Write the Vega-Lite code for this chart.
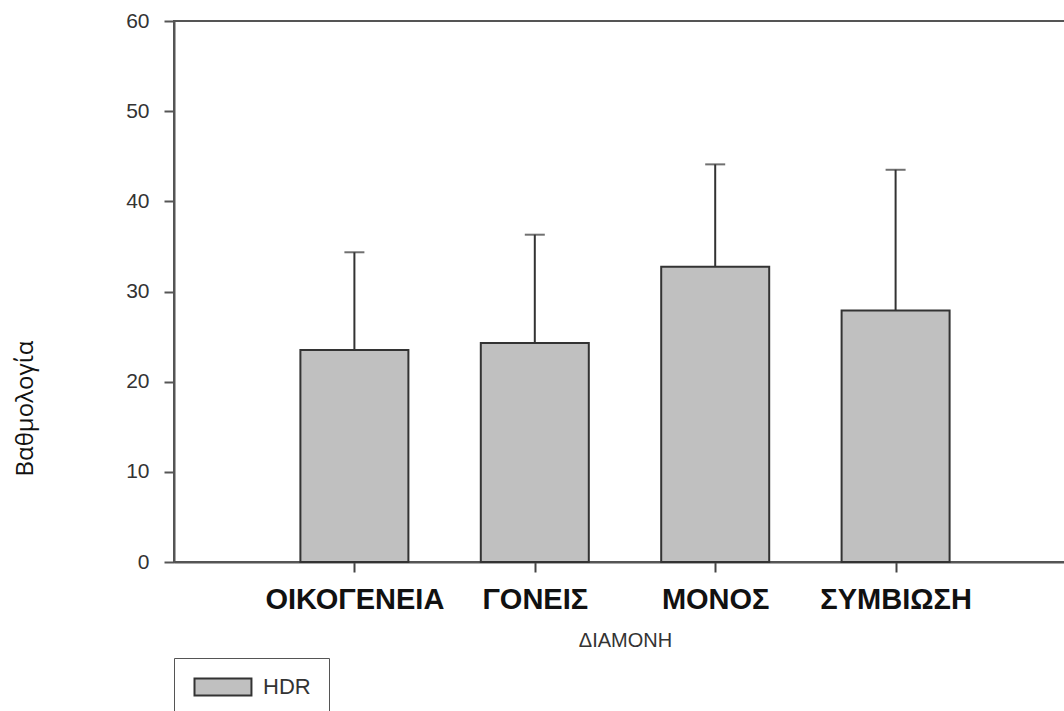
{
  "$schema": "https://vega.github.io/schema/vega-lite/v6.json",
  "width": 902,
  "height": 541,
  "padding": {"top": 10, "left": 13, "right": 0, "bottom": 0},
  "background": "white",
  "config": {
    "view": {"stroke": "#555555", "strokeWidth": 2},
    "font": "Liberation Sans"
  },
  "data": {
    "values": [
      {"diamoni": "ΟΙΚΟΓΕΝΕΙΑ", "mean": 23.5, "upper": 34.35, "series": "HDR"},
      {"diamoni": "ΓΟΝΕΙΣ", "mean": 24.3, "upper": 36.3, "series": "HDR"},
      {"diamoni": "ΜΟΝΟΣ", "mean": 32.75, "upper": 44.1, "series": "HDR"},
      {"diamoni": "ΣΥΜΒΙΩΣΗ", "mean": 27.9, "upper": 43.5, "series": "HDR"}
    ]
  },
  "encoding": {
    "x": {
      "field": "diamoni",
      "type": "nominal",
      "sort": null,
      "scale": {"type": "point", "padding": 0, "domain": [" ", "ΟΙΚΟΓΕΝΕΙΑ", "ΓΟΝΕΙΣ", "ΜΟΝΟΣ", "ΣΥΜΒΙΩΣΗ", "  "]},
      "axis": {
        "title": "ΔΙΑΜΟΝΗ",
        "values": ["ΟΙΚΟΓΕΝΕΙΑ", "ΓΟΝΕΙΣ", "ΜΟΝΟΣ", "ΣΥΜΒΙΩΣΗ"],
        "labelAngle": 0,
        "labelFont": "Liberation Sans",
        "labelFontWeight": "bold",
        "labelFontSize": 29,
        "labelColor": "#111111",
        "labelPadding": 13,
        "tickSize": 10,
        "tickColor": "#444444",
        "tickWidth": 2,
        "domainColor": "#555555",
        "domainWidth": 2,
        "titleFont": "Liberation Sans",
        "titleFontWeight": "normal",
        "titleFontSize": 20,
        "titleColor": "#333333",
        "titlePadding": 16
      }
    }
  },
  "layer": [
    {
      "mark": {"type": "bar", "size": 108, "stroke": "#333333", "strokeWidth": 2},
      "encoding": {
        "y": {
          "field": "mean",
          "type": "quantitative",
          "scale": {"domain": [0, 60], "nice": false},
          "axis": {
            "title": "Βαθμολογία",
            "values": [0, 10, 20, 30, 40, 50, 60],
            "grid": false,
            "labelFont": "Liberation Sans",
            "labelFontSize": 21,
            "labelColor": "#333333",
            "labelPadding": 15,
            "tickSize": 10,
            "tickColor": "#555555",
            "tickWidth": 2,
            "domainColor": "#555555",
            "domainWidth": 2,
            "titleFont": "Open Sans",
            "titleFontWeight": "normal",
            "titleFontSize": 24,
            "titleColor": "#111111",
            "titlePadding": 88,
            "titleY": 387
          }
        },
        "color": {
          "field": "series",
          "type": "nominal",
          "scale": {"range": ["#c0c0c0"]},
          "legend": {
            "title": null,
            "orient": "bottom",
            "offset": 8,
            "symbolType": "M-1,-1H5.7V1H-1Z",
            "symbolSize": 289,
            "symbolStrokeColor": "#333333",
            "symbolStrokeWidth": 2,
            "labelFont": "Liberation Sans",
            "labelFontSize": 22,
            "labelColor": "#333333",
            "labelOffset": 49,
            "padding": 18,
            "strokeColor": "#555555",
            "fillColor": "white"
          }
        }
      }
    },
    {
      "mark": {"type": "rule", "stroke": "#333333", "strokeWidth": 2},
      "encoding": {
        "y": {"field": "mean", "type": "quantitative"},
        "y2": {"field": "upper"}
      }
    },
    {
      "mark": {"type": "tick", "orient": "horizontal", "size": 20, "thickness": 2, "color": "#333333"},
      "encoding": {
        "y": {"field": "upper", "type": "quantitative"}
      }
    }
  ]
}
